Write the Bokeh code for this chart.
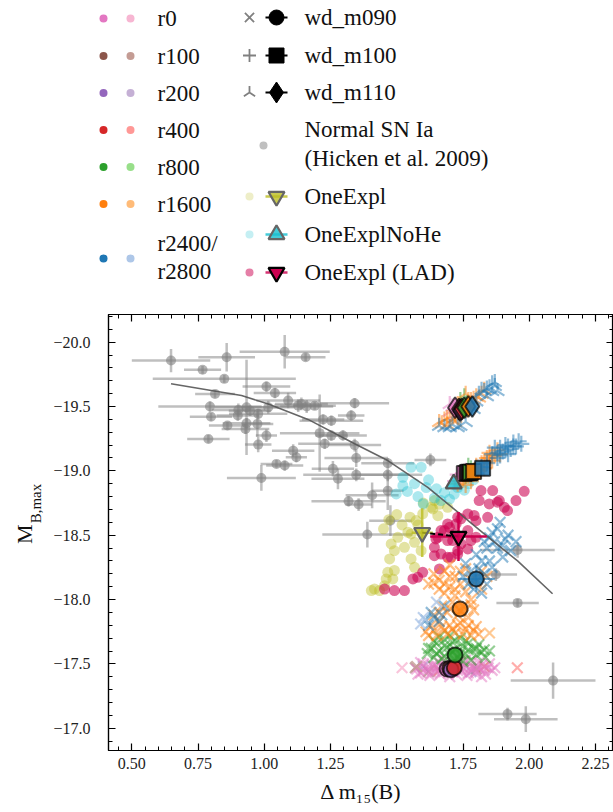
import numpy as np
from bokeh.plotting import figure
from bokeh.layouts import column, row
from bokeh.models import Range1d, LinearAxis, FixedTicker, CustomJSTickFormatter
from bokeh.embed import file_html
from bokeh.resources import INLINE
from bokeh.core.properties import value

FONT = "Liberation Serif"
FONT_Q = '"Liberation Serif"'

# ---------------- data ----------------
R_LABELS = ["r0", "r100", "r200", "r400", "r800", "r1600", "r2400/", "r2800"]
DARK = ["#e377c2", "#8c564b", "#9467bd", "#d62728", "#2ca02c", "#ff7f0e", "#1f77b4"]
LIGHT = ["#f7b6d2", "#c49c94", "#c5b0d5", "#ff9896", "#98df8a", "#ffbb78", "#aec7e8"]

X_TICKS = [0.50, 0.75, 1.00, 1.25, 1.50, 1.75, 2.00, 2.25]
Y_TICKS = [-20.0, -19.5, -19.0, -18.5, -18.0, -17.5, -17.0]

# Normal SN Ia (Hicken et al. 2009)
SN_X = [0.648,0.767,0.858,0.849,1.077,1.156,1.008,1.040,0.814,0.795,0.799,0.902,0.933,0.946,0.861,0.929,0.974,0.977,1.008,0.789,0.977,1.109,1.121,1.046,1.077,0.989,1.090,1.128,1.015,1.160,1.190,1.253,1.341,1.328,1.222,1.209,1.253,1.297,1.228,1.341,1.347,1.259,1.278,1.347,1.466,1.466,1.466,1.407,1.318,1.356,1.476,1.389,1.627,1.956,1.874,1.956,2.090,1.918,1.987,0.933,1.140,0.900]
SN_Y = [-19.857,-19.785,-19.883,-19.715,-19.925,-19.883,-19.655,-19.605,-19.598,-19.500,-19.420,-19.473,-19.494,-19.468,-19.352,-19.326,-19.365,-19.443,-19.274,-19.248,-19.204,-19.157,-19.106,-19.054,-19.041,-18.945,-19.546,-19.507,-19.494,-19.500,-19.505,-19.390,-19.526,-19.430,-19.400,-19.293,-19.274,-19.275,-19.210,-19.200,-19.100,-19.016,-18.938,-18.969,-19.060,-18.970,-18.846,-18.810,-18.764,-18.738,-18.613,-18.505,-19.085,-18.385,-18.194,-17.974,-17.370,-17.110,-17.070,-19.370,-19.520,-19.430]
SN_XERR = [0.148,0.07,0.107,0.27,0.17,0.075,0.09,0.08,0.075,0.195,0.08,0.10,0.12,0.08,0.07,0.09,0.06,0.11,0.04,0.08,0.05,0.08,0.04,0.06,0.07,0.13,0.12,0.09,0.10,0.10,0.08,0.12,0.13,0.05,0.08,0.15,0.06,0.09,0.10,0.10,0.12,0.08,0.10,0.20,0.10,0.13,0.06,0.10,0.14,0.05,0.08,0.17,0.06,0.14,0.08,0.08,0.16,0.11,0.12,0.09,0.10,0.08]
SN_YERR = [0.09,0.03,0.11,0.03,0.13,0.03,0.04,0.04,0.03,0.04,0.03,0.05,0.37,0.04,0.03,0.04,0.10,0.04,0.05,0.03,0.06,0.05,0.04,0.03,0.04,0.10,0.06,0.05,0.05,0.05,0.03,0.04,0.04,0.04,0.04,0.30,0.04,0.04,0.04,0.05,0.07,0.06,0.08,0.05,0.04,0.05,0.15,0.10,0.04,0.05,0.12,0.10,0.05,0.06,0.05,0.03,0.14,0.05,0.10,0.04,0.05,0.04]

# fitted relation
CURVE_X = [0.648, 0.80, 0.914, 1.015, 1.165, 1.341, 1.466, 1.617, 1.83, 1.956, 2.088]
CURVE_Y = [-19.677, -19.625, -19.585, -19.52, -19.40, -19.21, -19.08, -18.872, -18.51, -18.30, -18.045]

# wd_m090 models (x markers)
M090_R0 = [(1.575,-17.46),(1.59,-17.43),(1.60,-17.50),(1.615,-17.45),(1.625,-17.41),(1.635,-17.49),(1.645,-17.44),(1.655,-17.52),(1.665,-17.42),(1.675,-17.47),(1.685,-17.50),(1.695,-17.43),(1.705,-17.46),(1.715,-17.51),(1.725,-17.42),(1.735,-17.48),(1.745,-17.44),(1.755,-17.50),(1.765,-17.41),(1.775,-17.46),(1.785,-17.52),(1.795,-17.43),(1.805,-17.48),(1.815,-17.45),(1.825,-17.50),(1.835,-17.42),(1.845,-17.47),(1.86,-17.45),(1.64,-17.47),(1.70,-17.40),(1.76,-17.53),(1.82,-17.40),(1.68,-17.53),(1.62,-17.48),(1.66,-17.46),(1.72,-17.47),(1.78,-17.48),(1.80,-17.44),(1.74,-17.46),
           (1.58,-17.42),(1.60,-17.45),(1.63,-17.43),(1.65,-17.48),(1.67,-17.44),(1.69,-17.47),(1.71,-17.44),(1.73,-17.45),(1.75,-17.47),(1.77,-17.43),(1.79,-17.47),(1.81,-17.51),(1.83,-17.45),(1.85,-17.50),(1.59,-17.51),(1.87,-17.47)]
M090_R100 = [(1.57,-17.47),(1.62,-17.44),(1.74,-17.52),(1.80,-17.46)]
M090_R200 = [(1.60,-17.48),(1.78,-17.44)]
M090_R400 = [(1.66,-17.45),(1.83,-17.48)]
M090_R800 = [(1.615,-17.58),(1.63,-17.62),(1.64,-17.55),(1.65,-17.66),(1.66,-17.60),(1.67,-17.54),(1.68,-17.69),(1.69,-17.63),(1.70,-17.57),(1.71,-17.67),(1.72,-17.61),(1.73,-17.55),(1.74,-17.70),(1.75,-17.64),(1.76,-17.58),(1.77,-17.66),(1.78,-17.53),(1.79,-17.62),(1.80,-17.57),(1.81,-17.65),(1.82,-17.59),(1.835,-17.55),(1.85,-17.60),(1.70,-17.72),(1.66,-17.71),(1.75,-17.52),
             (1.62,-17.62),(1.65,-17.58),(1.68,-17.56),(1.71,-17.60),(1.74,-17.58),(1.77,-17.61),(1.80,-17.62),(1.83,-17.61),(1.72,-17.68),(1.68,-17.64),(1.76,-17.68),(1.64,-17.68)]
M090_R1600 = [(1.61,-17.75),(1.63,-17.80),(1.65,-17.72),(1.64,-17.88),(1.66,-17.83),(1.68,-17.76),(1.70,-17.80),(1.72,-17.74),(1.74,-17.82),(1.76,-17.77),(1.78,-17.72),(1.80,-17.79),(1.67,-17.95),(1.69,-17.90),(1.71,-17.98),(1.73,-17.88),(1.75,-17.95),(1.77,-17.86),(1.79,-17.92),(1.68,-18.05),(1.70,-18.10),(1.72,-18.03),(1.74,-18.12),(1.76,-18.06),(1.78,-18.00),(1.66,-18.15),(1.64,-18.20),(1.68,-18.22),(1.72,-18.18),(1.76,-18.24),(1.80,-18.14),(1.82,-18.08),(1.84,-18.18),(1.70,-18.27),(1.62,-18.12),
              (1.62,-17.72),(1.64,-17.76),(1.67,-17.79),(1.69,-17.73),(1.71,-17.77),(1.73,-17.80),(1.75,-17.73),(1.77,-17.80),(1.79,-17.76),(1.81,-17.73),(1.66,-17.90),(1.70,-17.93),(1.74,-17.91),(1.78,-17.96),(1.72,-18.08),(1.66,-18.08),(1.70,-18.18),(1.74,-18.22),(1.78,-18.15),(1.82,-18.22),(1.64,-18.13),(1.68,-18.12)]
M090_R2400 = [(1.80,-18.16),(1.77,-18.12),(1.83,-18.20),(1.78,-18.22),(1.84,-18.12),(1.76,-18.28),(1.82,-18.30),(1.86,-18.25),(1.80,-18.35),(1.84,-18.40),(1.87,-18.45),(1.90,-18.42),(1.92,-18.50),(1.88,-18.55),(1.85,-18.48),(1.93,-18.38),(1.90,-18.33),(1.95,-18.45),(1.89,-18.60),(1.82,-18.05),(1.66,-17.83),(1.63,-17.90),(1.68,-17.95),(1.62,-17.80),
              (1.79,-18.08),(1.81,-18.24),(1.75,-18.18),(1.85,-18.30),(1.88,-18.40),(1.91,-18.47),(1.86,-18.52),(1.83,-18.45),(1.64,-17.86),(1.61,-17.84),(1.67,-17.88)]
M090_LIGHT = [(1.52,-17.47,0),(1.575,-17.48,1),(1.955,-17.47,3),(1.85,-17.74,5),(1.59,-17.81,6),(1.65,-17.98,6),(1.60,-17.86,6)]

# wd_m100 models (+ markers)
M100_R0 = [(1.72,-18.92),(1.74,-18.95),(1.75,-18.98),(1.73,-18.97),(1.76,-19.00)]
M100_R800 = [(1.76,-18.96),(1.78,-19.02),(1.77,-19.04),(1.79,-19.00)]
M100_R1600 = [(1.73,-18.90),(1.75,-18.93),(1.77,-18.96),(1.79,-18.98),(1.80,-19.04),(1.82,-19.06),(1.83,-19.02),(1.84,-19.10),(1.86,-19.08),(1.85,-19.14),(1.87,-19.12),(1.81,-19.00),(1.88,-19.16),(1.78,-18.92),(1.76,-18.89),
              (1.74,-18.92),(1.78,-18.98),(1.80,-19.01),(1.83,-19.07),(1.85,-19.10),(1.86,-19.12),(1.89,-19.13)]
M100_R2400 = [(1.86,-19.13),(1.88,-19.10),(1.89,-19.18),(1.90,-19.15),(1.91,-19.20),(1.93,-19.17),(1.94,-19.22),(1.95,-19.19),(1.96,-19.23),(1.92,-19.13),(1.84,-19.06),(1.82,-19.03),(1.80,-18.98),(1.87,-19.18),(1.97,-19.21),
              (1.88,-19.14),(1.91,-19.16),(1.92,-19.19),(1.94,-19.19),(1.89,-19.12)]

# wd_m110 models (tri markers)
M110_R0 = [(1.70,-19.46),(1.71,-19.50),(1.72,-19.44),(1.70,-19.52),(1.725,-19.48)]
M110_R800 = [(1.74,-19.55),(1.755,-19.58),(1.765,-19.53),(1.75,-19.50)]
M110_R1600 = [(1.66,-19.38),(1.68,-19.40),(1.70,-19.42),(1.72,-19.41),(1.74,-19.45),(1.76,-19.48),(1.78,-19.52),(1.79,-19.56),(1.80,-19.58),(1.82,-19.60),(1.77,-19.55),(1.73,-19.52),(1.76,-19.60),(1.69,-19.36),(1.83,-19.63),
              (1.67,-19.37),(1.71,-19.40),(1.75,-19.47),(1.78,-19.55),(1.81,-19.57),(1.72,-19.38),(1.69,-19.41)]
M110_R2400 = [(1.66,-19.35),(1.68,-19.34),(1.71,-19.36),(1.74,-19.35),(1.76,-19.38),(1.79,-19.48),(1.81,-19.60),(1.83,-19.62),(1.85,-19.65),(1.87,-19.66),(1.88,-19.62),(1.84,-19.58),(1.86,-19.68),(1.78,-19.50),(1.80,-19.54),
              (1.82,-19.63),(1.84,-19.64),(1.86,-19.62),(1.87,-19.69),(1.70,-19.34),(1.73,-19.34)]

# mean values (big markers), one per r group: r0, r100, r200, r400, r800, r1600, r2400
M090_MEAN_X = [1.690, 1.700, 1.705, 1.717, 1.720, 1.739, 1.800]
M090_MEAN_Y = [-17.46, -17.465, -17.455, -17.47, -17.57, -17.927, -18.16]
M100_MEAN_X = [1.755, 1.765, 1.770, 1.775, 1.778, 1.790, 1.824]
M100_MEAN_Y = [-18.98, -18.985, -18.99, -18.985, -18.99, -18.995, -19.02]
M110_MEAN_X = [1.720, 1.735, 1.740, 1.745, 1.755, 1.770, 1.785]
M110_MEAN_Y = [-19.49, -19.48, -19.47, -19.48, -19.49, -19.50, -19.50]

# OneExpl / OneExplNoHe / OneExpl (LAD) realisations
ONEEXPL = [(1.598,-18.666),(1.636,-18.704),(1.655,-18.652),(1.573,-18.614),(1.542,-18.523),(1.504,-18.484),(1.479,-18.432),(1.491,-18.38),(1.529,-18.406),(1.567,-18.445),(1.592,-18.38),(1.473,-18.316),(1.554,-18.316),(1.567,-18.25),(1.466,-18.212),(1.485,-18.16),(1.460,-18.16),(1.454,-18.108),(1.416,-18.082),(1.404,-18.07),(1.435,-18.07),(1.491,-18.226),(1.63,-18.717),(1.642,-18.769),(1.692,-18.717),(1.554,-18.51),(1.45,-18.55),(1.47,-18.62),(1.50,-18.66),(1.52,-18.58),(1.55,-18.64),(1.58,-18.58),(1.60,-18.75),(1.66,-18.74)]
ONEEXPL_NOHE = [(1.523,-18.95),(1.554,-19.028),(1.592,-19.028),(1.498,-18.821),(1.523,-18.885),(1.567,-18.90),(1.611,-18.87),(1.642,-18.79),(1.667,-18.769),(1.699,-18.78),(1.717,-18.82),(1.755,-18.85),(1.58,-18.80),(1.60,-18.743),(1.54,-18.84),(1.62,-18.93),(1.65,-18.86),(1.68,-18.83),(1.73,-18.87),(1.77,-18.90),(1.79,-18.93)]
ONEEXPL_LAD = [(1.818,-18.847),(1.862,-18.847),(1.811,-18.769),(1.849,-18.743),(1.887,-18.769),(1.906,-18.717),(1.950,-18.769),(1.981,-18.841),(1.918,-18.691),(1.768,-18.665),(1.799,-18.613),(1.843,-18.639),(1.768,-18.536),(1.730,-18.639),(1.699,-18.561),(1.680,-18.536),(1.655,-18.484),(1.642,-18.406),(1.667,-18.354),(1.705,-18.328),(1.730,-18.38),(1.768,-18.393),(1.780,-18.458),(1.692,-18.458),(1.717,-18.51),(1.880,-18.757),(1.792,-18.653),(1.742,-18.627),(1.692,-18.588),(1.667,-18.536),(1.648,-18.471),(1.711,-18.458),(1.742,-18.432),(1.642,-18.341),(1.692,-18.328),(1.730,-18.354),(1.661,-18.238),(1.598,-18.212),(1.579,-18.173),(1.561,-18.16),(1.529,-18.07),(1.491,-18.07),(1.454,-18.082),(1.724,-18.588),(1.799,-18.484)]

# summary points: x, y, xerr, yerr
ONEEXPL_MEAN = (1.596, -18.52, 0.04, 0.19)
NOHE_MEAN = (1.715, -18.90, 0.0, 0.0)
LAD_MEAN = (1.733, -18.49, 0.107, 0.19)

YELLOW = "#bcbd22"
CYAN = "#17becf"
CRIMSON = "#cc0050"
GRAY = "#808080"

# ---------------- main plot ----------------
p = figure(width=563, height=512, x_range=Range1d(0.412, 2.318), y_range=Range1d(-16.827, -20.215),
           output_backend="svg", toolbar_location=None,
           min_border_left=57, min_border_right=0, min_border_top=14, min_border_bottom=62,
           x_axis_location=None, y_axis_location=None)
p.grid.visible = False
p.outline_line_color = "black"
p.outline_line_width = 1.2

xminor = [round(v, 2) for v in np.arange(0.45, 2.31, 0.05)]
yminor = [round(v, 1) for v in np.arange(-20.2, -16.85, 0.1)]
xt = FixedTicker(ticks=X_TICKS, minor_ticks=xminor)
yt = FixedTicker(ticks=Y_TICKS, minor_ticks=yminor)
xfmt = CustomJSTickFormatter(code="return (tick < 0 ? '\\u2212' : '') + Math.abs(tick).toFixed(2);")
yfmt = CustomJSTickFormatter(code="return (tick < 0 ? '\\u2212' : '') + Math.abs(tick).toFixed(1);")


def make_axis(ticker, fmt, labels, standoff=8):
    ax = LinearAxis(ticker=ticker, formatter=fmt,
                    major_tick_in=7, major_tick_out=0, minor_tick_in=4, minor_tick_out=0,
                    axis_line_color="black", axis_line_width=1.2,
                    major_tick_line_color="black", minor_tick_line_color="black",
                    major_tick_line_width=1.2, minor_tick_line_width=1.0,
                    major_label_text_font=FONT,
                    major_label_text_color="#222222" if labels else None,
                    major_label_text_font_size="16px" if labels else "1px",
                    major_label_standoff=standoff if labels else 0)
    return ax


xa = make_axis(xt, xfmt, True, 7)
xa.axis_label = "\u0394 m\u2081\u2085(B)"
xa.axis_label_text_font = FONT
xa.axis_label_text_font_style = "normal"
xa.axis_label_text_font_size = "22px"
xa.axis_label_text_color = "#111111"
xa.axis_label_standoff = 7
p.add_layout(xa, "below")
ya = make_axis(yt, yfmt, True, 18)
p.add_layout(ya, "left")
p.add_layout(make_axis(xt, xfmt, False), "above")
p.add_layout(make_axis(yt, yfmt, False), "right")

# Normal SN Ia
sx = np.array(SN_X); sy = np.array(SN_Y); sxe = np.array(SN_XERR); sye = np.array(SN_YERR)
p.segment(sx - sxe, sy, sx + sxe, sy, line_color=GRAY, line_alpha=0.5, line_width=2.5)
p.segment(sx, sy - sye, sx, sy + sye, line_color=GRAY, line_alpha=0.5, line_width=2.5)
p.scatter(sx, sy, size=10, fill_color=GRAY, fill_alpha=0.6, line_color=None)

# model realisations (dots)
def xy(lst):
    return [a[0] for a in lst], [a[1] for a in lst]

for lst, col, al in [(ONEEXPL, YELLOW, 0.42), (ONEEXPL_NOHE, CYAN, 0.36), (ONEEXPL_LAD, CRIMSON, 0.58)]:
    xs, ys = xy(lst)
    p.scatter(xs, ys, size=11, fill_color=col, fill_alpha=al, line_color=None)

# model clusters
def cluster(lst, col, marker, angle=0.0, alpha=0.5, size=15):
    xs, ys = xy(lst)
    p.scatter(xs, ys, marker=marker, size=size, line_color=col, line_alpha=alpha, line_width=2.2,
              fill_color=None, angle=angle)

for lst, c in [(M090_R100, 1), (M090_R200, 2), (M090_R400, 3), (M090_R0, 0), (M090_R800, 4),
               (M090_R1600, 5), (M090_R2400, 6)]:
    cluster(lst, DARK[c], "x")
for a in M090_LIGHT:
    cluster([a], LIGHT[a[2]], "x", alpha=0.8)
for lst, c in [(M100_R0, 0), (M100_R800, 4), (M100_R1600, 5), (M100_R2400, 6)]:
    cluster(lst, DARK[c], "cross", size=16)
for lst, c in [(M110_R0, 0), (M110_R800, 4), (M110_R1600, 5), (M110_R2400, 6)]:
    cluster(lst, DARK[c], "y", angle=np.pi, size=16)

# relation curve
p.line(CURVE_X, CURVE_Y, line_color="#555555", line_alpha=0.9, line_width=1.6)

# blue m090 error bars
p.segment([M090_MEAN_X[6] - 0.07], [M090_MEAN_Y[6]], [M090_MEAN_X[6] + 0.07], [M090_MEAN_Y[6]],
          line_color=DARK[6], line_alpha=0.6, line_width=2)
p.segment([M090_MEAN_X[6]], [M090_MEAN_Y[6] - 0.1], [M090_MEAN_X[6]], [M090_MEAN_Y[6] + 0.1],
          line_color=DARK[6], line_alpha=0.6, line_width=2)

# mean markers
p.scatter(M090_MEAN_X, M090_MEAN_Y, marker="circle", size=15, fill_color=DARK, fill_alpha=0.85,
          line_color="black", line_alpha=0.7, line_width=2)
p.scatter(M100_MEAN_X, M100_MEAN_Y, marker="square", size=15, fill_color=DARK, fill_alpha=0.85,
          line_color="black", line_alpha=0.7, line_width=2)
p.scatter(M110_MEAN_X, M110_MEAN_Y, marker="diamond", size=21, fill_color=DARK, fill_alpha=0.85,
          line_color="black", line_alpha=0.7, line_width=2)

# OneExpl summary markers
ox, oy, oxe, oye = ONEEXPL_MEAN
p.segment([ox], [oy - oye], [ox], [oy + oye], line_color=YELLOW, line_alpha=0.8, line_width=2.5)
p.segment([ox - oxe], [oy], [ox + oxe], [oy], line_color=YELLOW, line_alpha=0.8, line_width=2.5)
lx, ly, lxe, lye = LAD_MEAN
p.segment([lx], [ly - lye], [lx], [ly + lye], line_color=CRIMSON, line_width=2.5)
p.segment([lx - lxe], [ly], [lx + lxe], [ly], line_color=CRIMSON, line_width=2.5)
p.line([ox, lx], [oy, ly], line_color="black", line_dash="5 3", line_width=2)
p.scatter([ox], [oy], marker="inverted_triangle", size=16, fill_color=YELLOW, fill_alpha=0.8,
          line_color="#666666", line_width=2.2)
p.scatter([NOHE_MEAN[0]], [NOHE_MEAN[1]], marker="triangle", size=16, fill_color=CYAN, fill_alpha=0.8,
          line_color="#555555", line_width=2.2)
p.scatter([lx], [ly], marker="inverted_triangle", size=16, fill_color=CRIMSON, fill_alpha=0.9,
          line_color="black", line_width=2.2)

# ---------------- y axis label strip ----------------
yl = figure(width=50, height=512, x_range=Range1d(0, 50), y_range=Range1d(512, 0),
            output_backend="svg", toolbar_location=None, min_border=0,
            x_axis_location=None, y_axis_location=None)
yl.grid.visible = False
yl.outline_line_color = None
yl.text([24], [258], text=["M"], angle=np.pi / 2, text_font=value(FONT_Q), text_font_size="22px",
        text_align="center", text_baseline="middle", text_color="#111111")
yl.text([35], [222], text=["B,max"], angle=np.pi / 2, text_font=value(FONT_Q), text_font_size="15px",
        text_align="center", text_baseline="middle", text_color="#111111")

# ---------------- legend (drawn above the plot) ----------------
lg = figure(width=613, height=300, x_range=Range1d(0, 613), y_range=Range1d(300, 0),
            output_backend="svg", toolbar_location=None, min_border=0,
            x_axis_location=None, y_axis_location=None)
lg.grid.visible = False
lg.outline_line_color = None

row_y = [18, 55.5, 92.5, 129.5, 166.5, 203.5, 258]
lg.scatter([103] * 7, row_y, size=8, fill_color=DARK, line_color=None)
lg.scatter([130] * 7, row_y, size=8, fill_color=LIGHT, line_color=None)
lg.text([157] * 8, [18, 55.5, 92.5, 129.5, 166.5, 203.5, 243, 271], text=R_LABELS,
        text_font=value(FONT_Q), text_font_size="23px", text_baseline="middle", text_color="#111111")

# column 2
my = [17, 55, 92]
lg.scatter([249], [my[0]], marker="x", size=13, line_color=GRAY, line_width=1.8)
lg.scatter([249], [my[1]], marker="cross", size=13, line_color=GRAY, line_width=1.8)
lg.scatter([249], [my[2]], marker="y", size=13, line_color=GRAY, line_width=1.8, angle=np.pi)
lg.segment([265] * 3, my, [287] * 3, my, line_color="black", line_width=2)
lg.scatter([276], [my[0]], marker="circle", size=15, fill_color="black", line_color="black")
lg.scatter([276], [my[1]], marker="square", size=15, fill_color="black", line_color="black")
lg.scatter([276], [my[2]], marker="diamond", size=21, fill_color="black", line_color="black")
lg.scatter([263], [145], size=8, fill_color="#c0c0c0", line_color=None)

ey = [196, 234, 272]
lg.scatter([249] * 3, ey, size=8, fill_color=[YELLOW, CYAN, CRIMSON], fill_alpha=[0.25, 0.25, 0.5],
           line_color=None)
lg.segment([265] * 3, ey, [287] * 3, ey, line_color=[YELLOW, CYAN, CRIMSON], line_alpha=0.8, line_width=2.5)
lg.scatter([276], [ey[0]], marker="inverted_triangle", size=16, fill_color=YELLOW, fill_alpha=0.8,
           line_color="#666666", line_width=2.2)
lg.scatter([276], [ey[1]], marker="triangle", size=16, fill_color=CYAN, fill_alpha=0.8,
           line_color="#666666", line_width=2.2)
lg.scatter([276], [ey[2]], marker="inverted_triangle", size=16, fill_color=CRIMSON,
           line_color="black", line_width=2.2)

LEG2 = ["wd_m090", "wd_m100", "wd_m110", "Normal SN Ia", "(Hicken et al. 2009)",
        "OneExpl", "OneExplNoHe", "OneExpl (LAD)"]
lg.text([304] * 8, [17, 55, 92, 129, 158, 196, 234, 272], text=LEG2,
        text_font=value(FONT_Q), text_font_size="23px", text_baseline="middle", text_color="#111111")

layout = column(lg, row(yl, p, spacing=0), spacing=0)
open("out.html", "w").write(file_html(layout, INLINE))
